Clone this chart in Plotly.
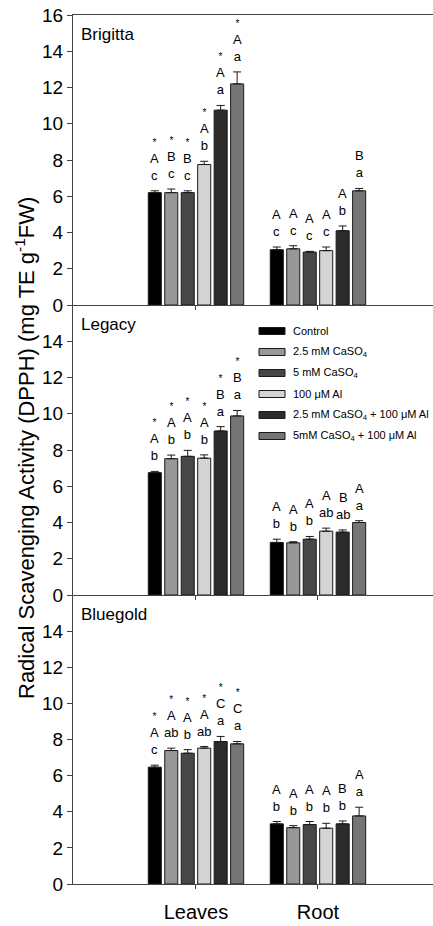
import plotly.graph_objects as go

# ---------------- data ----------------
categories = ["Leaves", "Root"]
treatments = [
    "Control",
    "2.5 mM CaSO<sub>4</sub>",
    "5 mM CaSO<sub>4</sub>",
    "100 μM Al",
    "2.5 mM CaSO<sub>4</sub> + 100 μM Al",
    "5mM CaSO<sub>4</sub> + 100 μM Al",
]
colors = ["#000000", "#979797", "#474747", "#d4d4d4", "#2b2b2b", "#757575"]

cultivars = ["Brigitta", "Legacy", "Bluegold"]

# Brigitta
brigitta_leaves = [6.2, 6.2, 6.2, 7.75, 10.75, 12.2]
brigitta_leaves_err = [0.1, 0.2, 0.1, 0.18, 0.26, 0.66]
brigitta_root = [3.05, 3.1, 2.92, 3.0, 4.1, 6.3]
brigitta_root_err = [0.15, 0.17, 0.04, 0.2, 0.26, 0.13]
brigitta_leaves_star = [True, True, True, True, True, True]
brigitta_leaves_upper = ["A", "B", "B", "A", "A", "A"]
brigitta_leaves_lower = ["c", "c", "c", "b", "a", "a"]
brigitta_root_star = [False] * 6
brigitta_root_upper = ["A", "A", "A", "A", "A", "B"]
brigitta_root_lower = ["c", "c", "c", "c", "b", "a"]

# Legacy
legacy_leaves = [6.75, 7.52, 7.65, 7.55, 9.05, 9.88]
legacy_leaves_err = [0.07, 0.2, 0.33, 0.18, 0.24, 0.3]
legacy_root = [2.9, 2.88, 3.08, 3.52, 3.47, 4.0]
legacy_root_err = [0.18, 0.06, 0.15, 0.17, 0.12, 0.1]
legacy_leaves_star = [True, True, True, True, True, True]
legacy_leaves_upper = ["A", "A", "A", "A", "B", "B"]
legacy_leaves_lower = ["b", "b", "b", "b", "a", "a"]
legacy_root_star = [False] * 6
legacy_root_upper = ["A", "A", "A", "A", "B", "A"]
legacy_root_lower = ["b", "b", "b", "ab", "ab", "a"]

# Bluegold
bluegold_leaves = [6.47, 7.39, 7.24, 7.52, 7.89, 7.76]
bluegold_leaves_err = [0.11, 0.13, 0.2, 0.09, 0.28, 0.13]
bluegold_root = [3.33, 3.12, 3.29, 3.09, 3.33, 3.77]
bluegold_root_err = [0.13, 0.11, 0.17, 0.27, 0.16, 0.48]
bluegold_leaves_star = [True, True, True, True, True, True]
bluegold_leaves_upper = ["A", "A", "A", "A", "C", "C"]
bluegold_leaves_lower = ["c", "ab", "b", "ab", "a", "a"]
bluegold_root_star = [False] * 6
bluegold_root_upper = ["A", "A", "A", "A", "B", "A"]
bluegold_root_lower = ["b", "b", "b", "b", "b", "a"]

y_ticks_top = [0, 2, 4, 6, 8, 10, 12, 14, 16]
y_ticks_other = [0, 2, 4, 6, 8, 10, 12, 14]

# ---------------- layout helpers ----------------
panels = [
    dict(name=cultivars[0],
         vals=(brigitta_leaves, brigitta_root), errs=(brigitta_leaves_err, brigitta_root_err),
         star=(brigitta_leaves_star, brigitta_root_star),
         upper=(brigitta_leaves_upper, brigitta_root_upper),
         lower=(brigitta_leaves_lower, brigitta_root_lower)),
    dict(name=cultivars[1],
         vals=(legacy_leaves, legacy_root), errs=(legacy_leaves_err, legacy_root_err),
         star=(legacy_leaves_star, legacy_root_star),
         upper=(legacy_leaves_upper, legacy_root_upper),
         lower=(legacy_leaves_lower, legacy_root_lower)),
    dict(name=cultivars[2],
         vals=(bluegold_leaves, bluegold_root), errs=(bluegold_leaves_err, bluegold_root_err),
         star=(bluegold_leaves_star, bluegold_root_star),
         upper=(bluegold_leaves_upper, bluegold_root_upper),
         lower=(bluegold_leaves_lower, bluegold_root_lower)),
]

W, H = 433, 926
M_T, M_B = 15, 42
plot_h = H - M_T - M_B
x_left_px = 73
x_domain = [x_left_px / W, 1.0]
# pixel boundaries of the three stacked panels
bounds_px = [15, 305, 595, 884]
y_domains = []
for k in range(3):
    top = (M_T + plot_h - bounds_px[k]) / plot_h
    bot = (M_T + plot_h - bounds_px[k + 1]) / plot_h
    y_domains.append([max(0.0, bot), min(1.0, top)])

cat_pos = list(range(len(categories)))
bar_step = 0.135
bar_width = 0.107
x_range = [-1.008, 1.943]

FONT = "Liberation Sans, Arial, sans-serif"
AXIS_COLOR = "#444444"

fig = go.Figure()
annotations = []
shapes = []

for p, panel in enumerate(panels):
    xa = "x" if p == 0 else f"x{p + 1}"
    ya = "y" if p == 0 else f"y{p + 1}"
    for i, tname in enumerate(treatments):
        xs = [c + (i - 2.5) * bar_step for c in cat_pos]
        ys = [panel["vals"][c][i] for c in cat_pos]
        es = [panel["errs"][c][i] for c in cat_pos]
        fig.add_trace(go.Bar(
            x=xs, y=ys, width=bar_width, name=tname, showlegend=False,
            marker=dict(color=colors[i], line=dict(color="#1a1a1a", width=1)),
            error_y=dict(type="data", symmetric=False, array=es, arrayminus=[0] * len(es),
                         color="#1a1a1a", thickness=1, width=4),
            xaxis=xa, yaxis=ya,
        ))
        # significance letters above each bar
        for c in cat_pos:
            lines = []
            if panel["star"][c][i]:
                lines.append("<span style='font-size:10px'>*</span>")
            lines.append(panel["upper"][c][i])
            lines.append(panel["lower"][c][i])
            annotations.append(dict(
                x=xs[c], y=ys[c] + es[c], xref=xa, yref=ya,
                text="<br>".join(lines), showarrow=False,
                xanchor="center", yanchor="bottom", yshift=6,
                font=dict(family=FONT, size=13, color="#000"),
            ))
    # cultivar label
    annotations.append(dict(
        x=0.017, y=1, xref=f"{xa} domain", yref=f"{ya} domain",
        text=panel["name"], showarrow=False, xanchor="left", yanchor="top", yshift=-8,
        font=dict(family=FONT, size=17, color="#000"),
    ))

# custom legend (wide flat swatches as in the original) in the Legacy panel
leg_x0, leg_x1, leg_tx = (259 - 73) / 360, (285 - 73) / 360, (291 - 73) / 360
leg_y0 = (595 - 331) / 290
leg_dy = 21 / 290
sw_h = 3.5 / 290
for k, tname in enumerate(treatments):
    yc = leg_y0 - k * leg_dy
    shapes.append(dict(type="rect", xref="x2 domain", yref="y2 domain",
                       x0=leg_x0, x1=leg_x1, y0=yc - sw_h, y1=yc + sw_h,
                       fillcolor=colors[k], line=dict(color="#1a1a1a", width=1)))
    annotations.append(dict(x=leg_tx, y=yc, xref="x2 domain", yref="y2 domain",
                            text=tname, showarrow=False, xanchor="left", yanchor="middle",
                            font=dict(family=FONT, size=11, color="#000")))

# y-axis title
annotations.append(dict(
    x=25 / W, y=(M_T + plot_h - 448) / plot_h, xref="paper", yref="paper",
    text="Radical Scavenging Activity (DPPH) (mg TE g<sup>-1</sup>FW)",
    textangle=-90, showarrow=False, xanchor="center", yanchor="middle",
    font=dict(family=FONT, size=22, color="#000"),
))

common_x = dict(domain=x_domain, range=x_range, showgrid=False, zeroline=False,
                showline=True, linecolor=AXIS_COLOR, linewidth=1, automargin=False,
                ticks="outside", ticklen=4, tickcolor=AXIS_COLOR,
                tickvals=cat_pos, fixedrange=True)
common_y = dict(range=[0, 16], showgrid=False, zeroline=False, showline=True,
                linecolor=AXIS_COLOR, linewidth=1, ticks="outside", ticklen=5,
                automargin=False, tickcolor=AXIS_COLOR, fixedrange=True,
                tickfont=dict(family=FONT, size=19, color="#000"))

fig.update_layout(
    width=W, height=H,
    margin=dict(l=0, r=0, t=M_T, b=M_B, autoexpand=False),
    paper_bgcolor="white", plot_bgcolor="white",
    barmode="overlay", showlegend=False, hovermode=False,
    font=dict(family=FONT, color="#000"),
    xaxis=dict(**common_x, anchor="y", showticklabels=False, mirror=True),
    xaxis2=dict(**common_x, anchor="y2", showticklabels=False),
    xaxis3=dict(**common_x, anchor="y3", ticktext=categories,
                tickfont=dict(family=FONT, size=20, color="#000"), ticklabelstandoff=6),
    yaxis=dict(**common_y, domain=y_domains[0], anchor="x", tickvals=y_ticks_top),
    yaxis2=dict(**common_y, domain=y_domains[1], anchor="x2", tickvals=y_ticks_other),
    yaxis3=dict(**common_y, domain=y_domains[2], anchor="x3", tickvals=y_ticks_other),
    annotations=annotations, shapes=shapes,
)

# remove the browser's default 8px body margin so the figure fills the window exactly
fig.write_html("out.html", config={"displayModeBar": False},
               post_script="document.body.style.margin='0';document.body.style.overflow='hidden';")
